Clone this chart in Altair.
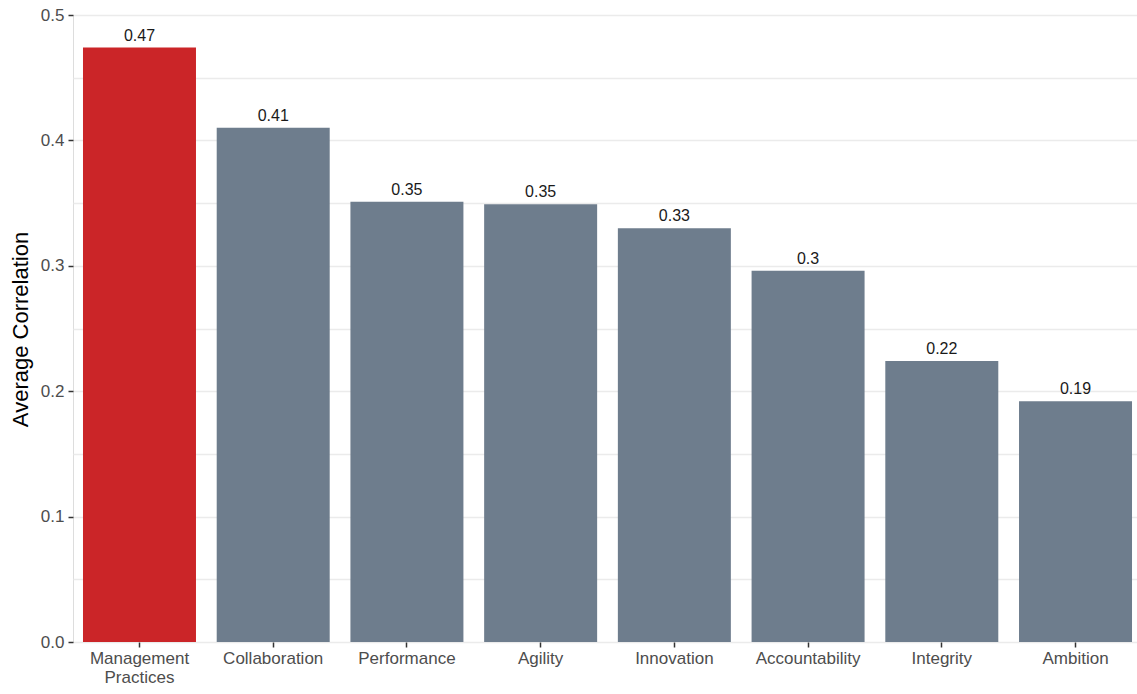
import altair as alt
import pandas as pd

# Average correlation of each culture dimension
categories = [
    "Management Practices", "Collaboration", "Performance", "Agility",
    "Innovation", "Accountability", "Integrity", "Ambition",
]
avg_corr = [0.474, 0.410, 0.351, 0.349, 0.330, 0.296, 0.224, 0.192]
highlight = "Management Practices"

# Gridlines every 0.05; labels and ticks only on the 0.1 steps
grid_values = [0.0, 0.05, 0.1, 0.15, 0.2, 0.25, 0.3, 0.35, 0.4, 0.45, 0.5]

df = pd.DataFrame({"category": categories, "value": avg_corr})

FONT = "Liberation Sans"
RED = "#CB2528"
GRAY = "#6E7D8D"
GRID = "#EBEBEB"
IS_MAJOR = "round(datum.value * 100) % 10 == 0"

base = alt.Chart(df).encode(
    x=alt.X(
        "category:N",
        sort=categories,
        scale=alt.Scale(paddingInner=0.155, paddingOuter=0.056, align=0.667),
        axis=alt.Axis(
            title=None,
            domain=False,
            grid=False,
            ticks=True,
            tickSize=5,
            tickWidth=1.5,
            tickColor="#333333",
            labelAngle=0,
            labelPadding=3,
            labelFont=FONT,
            labelFontSize=17,
            labelColor="#4D4D4D",
            labelLineHeight=19,
            labelExpr="split(datum.label, ' ')",
        ),
    ),
    y=alt.Y(
        "value:Q",
        scale=alt.Scale(domain=[0, 0.5], nice=False, zero=True),
        axis=alt.Axis(
            title="Average Correlation",
            values=grid_values,
            labelExpr=f"{IS_MAJOR} ? format(datum.value, '.1f') : ''",
            domain=False,
            grid=True,
            gridColor=GRID,
            gridWidth=1.5,
            ticks=True,
            tickSize=5,
            tickWidth=1.5,
            tickColor="#333333",
            tickOpacity={"condition": {"test": IS_MAJOR, "value": 1}, "value": 0},
            labelPadding=4,
            labelFont=FONT,
            labelFontSize=17,
            labelColor="#4D4D4D",
            titleFont=FONT,
            titleFontSize=22,
            titleFontWeight="normal",
            titleColor="#000000",
            titleAngle=270,
            titleX=-53,
            titleY=314,
            titleAlign="center",
            titleBaseline="middle",
        ),
    ),
)

bars = base.mark_bar().encode(
    color=alt.condition(
        alt.datum.category == highlight, alt.value(RED), alt.value(GRAY)
    )
)

labels = base.mark_text(
    baseline="bottom", dy=-4, font=FONT, fontSize=16, color="#1A1A1A"
).encode(text=alt.Text("value:Q", format=".2~f"))

chart = (
    alt.layer(bars, labels)
    .properties(
        width=1064,
        height=627,
        autosize=alt.AutoSizeParams(type="none"),
        padding={"left": 73, "top": 15, "right": 0, "bottom": 52},
    )
    .configure_view(strokeWidth=0, stroke="transparent")
    .configure_axis(domain=False)
    .configure(background="white")
)

chart.save("out.html", embed_options={"renderer": "svg", "actions": False})
